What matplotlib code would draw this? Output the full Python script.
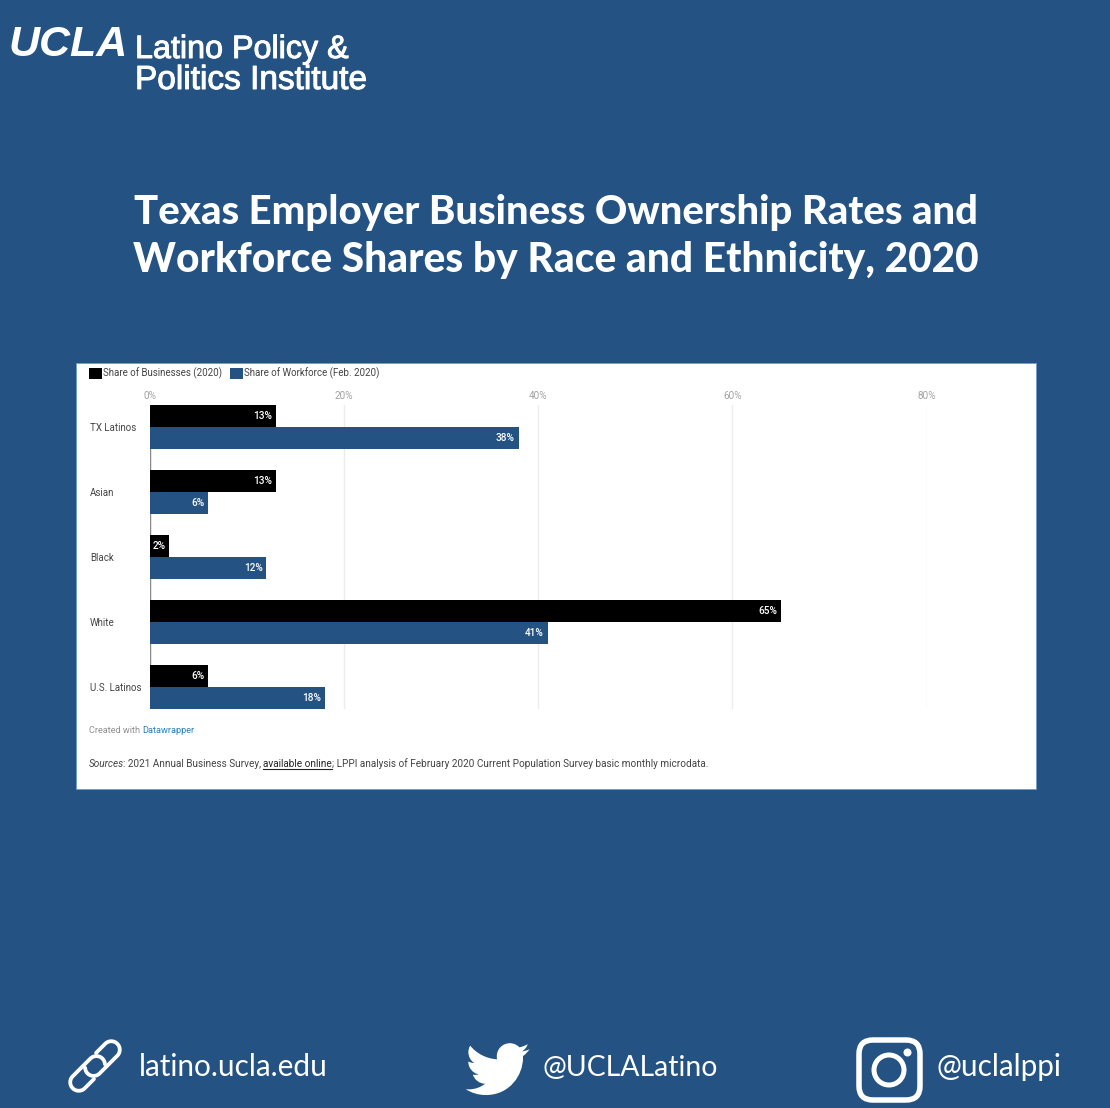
import re
import numpy as np
import matplotlib
matplotlib.use("Agg")
import matplotlib.pyplot as plt
import matplotlib.patheffects as pe
from matplotlib.patches import Rectangle, FancyBboxPatch, Circle, PathPatch
from matplotlib.path import Path

# ---- data ----
categories = ["TX Latinos", "Asian", "Black", "White", "U.S. Latinos"]
business_share = [13, 13, 2, 65, 6]
workforce_share = [38, 6, 12, 41, 18]
axis_ticks = [0, 20, 40, 60, 80]
series_names = ["Share of Businesses (2020)", "Share of Workforce (Feb. 2020)"]

NAVY = "#245383"
W, H = 1110, 1108

fig = plt.figure(figsize=(W / 100, H / 100), dpi=100, facecolor=NAVY)

# Full-figure layer in pixel units for the branding, panel and footer
page = fig.add_axes([0, 0, 1, 1], zorder=0)
page.set_xlim(0, W)
page.set_ylim(H, 0)
page.axis("off")


def px(size):
    return size * 0.72


page.add_patch(Rectangle((76, 363), 960, 426, fc="white", ec="#6f9cc8", lw=0.6))

# ---- header ----
thicken = [pe.withStroke(linewidth=0.7, foreground="white")]
page.text(8.5, 56, "UCLA", color="white", fontsize=px(43), family="Liberation Sans",
          weight="bold", style="italic", va="baseline")
page.text(135, 58, "Latino Policy &", color="white", fontsize=px(32.3), family="Liberation Sans",
          va="baseline", path_effects=thicken)
page.text(135, 89, "Politics Institute", color="white", fontsize=px(33.4), family="Liberation Sans",
          va="baseline", path_effects=thicken)
page.text(556, 224, "Texas Employer Business Ownership Rates and", color="white",
          fontsize=px(40), family="Lato", weight="black", ha="center", va="baseline")
page.text(556, 272, "Workforce Shares by Race and Ethnicity, 2020", color="white",
          fontsize=px(40.6), family="Lato", weight="black", ha="center", va="baseline")

# ---- chart ----
left, right, top, bottom = 150, 926.5, 405, 709
ax = fig.add_axes([left / W, 1 - bottom / H, (right - left) / W, (bottom - top) / H], zorder=1)
ax.patch.set_alpha(0)
bar_h = 22 / 65
ys = list(range(len(categories)))
bars_a = ax.barh([y - bar_h / 2 for y in ys], business_share, height=bar_h, color="black",
                 label=series_names[0], zorder=3)
bars_b = ax.barh([y + bar_h / 2 for y in ys], workforce_share, height=bar_h, color=NAVY,
                 label=series_names[1], zorder=3)
ax.set_xlim(0, 80)
ax.set_ylim(len(categories) - 1 + bar_h, -bar_h)
ax.set_xticks(axis_ticks, [f"{t}%" for t in axis_ticks])
ax.set_yticks(ys, categories)
ax.xaxis.tick_top()
ax.tick_params(axis="x", length=0, pad=px(4), labelsize=px(10), labelcolor="#a3a3a3")
ax.tick_params(axis="y", length=0, pad=px(60), labelsize=px(9.8), labelcolor="#444444")
for lab in ax.get_yticklabels():
    lab.set_ha("left")
for lab in ax.get_xticklabels() + ax.get_yticklabels():
    lab.set_family("Roboto")
for s in ax.spines.values():
    s.set_visible(False)
ax.grid(axis="x", color="#ececec", lw=1, zorder=0)
ax.set_axisbelow(True)
ax.axvline(0, color="#8a8a8a", lw=1, zorder=2)

for bars, vals in ((bars_a, business_share), (bars_b, workforce_share)):
    for rect, v in zip(bars, vals):
        ax.annotate(f"{v}%", (v, rect.get_y() + rect.get_height() / 2), xytext=(-px(4), 0),
                    textcoords="offset points", ha="right", va="center", color="white",
                    fontsize=px(10), family="Roboto", weight="medium", zorder=4)

leg = fig.legend(handles=[bars_a, bars_b], loc="upper left",
                 bbox_to_anchor=(89 / W, 1 - 367.5 / H), ncol=2, frameon=False,
                 prop={"family": "Roboto", "size": px(9.8)}, handlelength=1.32, handleheight=1.32,
                 handletextpad=0.1, columnspacing=0.8, borderpad=0, borderaxespad=0)
for t in leg.get_texts():
    t.set_color("#444444")

# ---- credits ----
fig.canvas.draw()
rend = fig.canvas.get_renderer()


def run(x, y, size, pieces):
    """Lay out text pieces one after another on a shared baseline."""
    for s, kw in pieces:
        under = kw.pop("underline", False)
        kern = kw.pop("kern", 0)
        t = page.text(x, y, s, fontsize=px(size), family="Roboto", va="baseline", **kw)
        box = t.get_window_extent(rend)
        if under:
            page.plot([x, x + box.width], [y + 1.5, y + 1.5], color="#222222", lw=0.8)
        x += box.width + kern


run(89, 733, 9.2, [("Created with ", {"color": "#8f8f8f"}), ("Datawrapper", {"color": "#2a7fb8"})])
run(89, 767, 10, [("Sources", {"color": "#444444", "style": "italic", "kern": -1.5}),
                  (": 2021 Annual Business Survey, ", {"color": "#444444"}),
                  ("available online", {"color": "#222222", "underline": True}),
                  ("; LPPI analysis of February 2020 Current Population Survey basic monthly microdata.",
                   {"color": "#444444"})])

# ---- footer ----
for x, s, size in ((139, "latino.ucla.edu", 29.8), (543, "@UCLALatino", 28.4), (937, "@uclalppi", 29.7)):
    page.text(x, 1076, s, color="white", fontsize=px(size), family="Lato", va="baseline")


def svg_path(d, ox, oy, k):
    """Convert a small SVG path (M, L, C and relative forms) into a scaled Path."""
    verts, codes = [], []
    cx = cy = 0.0
    for cmd, args in re.findall(r"([MmLlCcZz])([^MmLlCcZz]*)", d):
        nums = [float(n) for n in re.findall(r"-?\d*\.?\d+", args)]
        rel = cmd.islower()
        if cmd in "Zz":
            verts.append((cx, cy))
            codes.append(Path.CLOSEPOLY)
        elif cmd in "Mm":
            cx, cy = nums[0], nums[1]
            verts.append((cx, cy))
            codes.append(Path.MOVETO)
        elif cmd in "Ll":
            for i in range(0, len(nums), 2):
                cx = nums[i] + (cx if rel else 0)
                cy = nums[i + 1] + (cy if rel else 0)
                verts.append((cx, cy))
                codes.append(Path.LINETO)
        else:
            for i in range(0, len(nums), 6):
                bx, by = (cx, cy) if rel else (0, 0)
                pts = [(nums[i + j] + bx, nums[i + j + 1] + by) for j in (0, 2, 4)]
                verts += pts
                codes += [Path.CURVE4] * 3
                cx, cy = pts[-1]
    return Path([(ox + k * vx, oy + k * vy) for vx, vy in verts], codes)


# Bird glyph
BIRD = ("M22.46 6c-.77.35-1.6.58-2.46.69.88-.53 1.56-1.37 1.88-2.38-.83.5-1.75.85-2.72 1.05"
        "C18.37 4.5 17.26 4 16 4c-2.35 0-4.27 1.92-4.27 4.29 0 .34.04.67.11.98"
        "C8.28 9.09 5.11 7.38 3 4.79c-.37.63-.58 1.37-.58 2.15 0 1.49.75 2.81 1.91 3.56"
        "c-.71 0-1.37-.2-1.95-.5c0 2.08 1.48 3.85 3.44 4.24c-.6.15-1.3.2-1.93.07"
        "c.55 1.7 2.1 2.95 4 2.98c-1.45 1.16-3.3 1.84-5.33 1.84c-.34 0-.68-.02-1.02-.06"
        "C3.44 20.29 5.7 21 8.12 21C16 21 20.33 14.46 20.33 8.79c0-.19 0-.37-.01-.56"
        "c.84-.6 1.56-1.36 2.14-2.23z")
page.add_patch(PathPatch(svg_path(BIRD, 461, 1031, 3.05), fc="white", ec="none"))

# Camera glyph
page.add_patch(FancyBboxPatch((873, 1054), 33, 32, boxstyle="round,pad=14,rounding_size=14",
                              fc="none", ec="white", lw=px(5.5)))
page.add_patch(Circle((889, 1070), 15, fc="none", ec="white", lw=px(5)))
page.add_patch(Circle((907.5, 1052.5), 4, fc="white", ec="none"))


# Chain glyph: two open stadium outlines mirrored through the centre of the icon
def link_outline(r=8.5, near=-2.0, far=23.0, stop=10.0):
    cap_near = np.radians(np.linspace(222, 90, 30))
    cap_far = np.radians(np.linspace(90, -90, 50))
    u = np.r_[near + r * np.cos(cap_near), far + r * np.cos(cap_far), stop]
    v = np.r_[r * np.sin(cap_near), r * np.sin(cap_far), -r]
    return u, v


u, v = link_outline()
axis_x, axis_y = np.array([1, -1]) / np.sqrt(2)
perp_x, perp_y = np.array([1, 1]) / np.sqrt(2)
for sign in (1, -1):
    page.plot(95 + sign * (u * axis_x + v * perp_x), 1066 + sign * (u * axis_y + v * perp_y),
              color="white", lw=px(3.8), solid_capstyle="round", solid_joinstyle="round")

fig.savefig("out.png", dpi=100, facecolor=NAVY)
